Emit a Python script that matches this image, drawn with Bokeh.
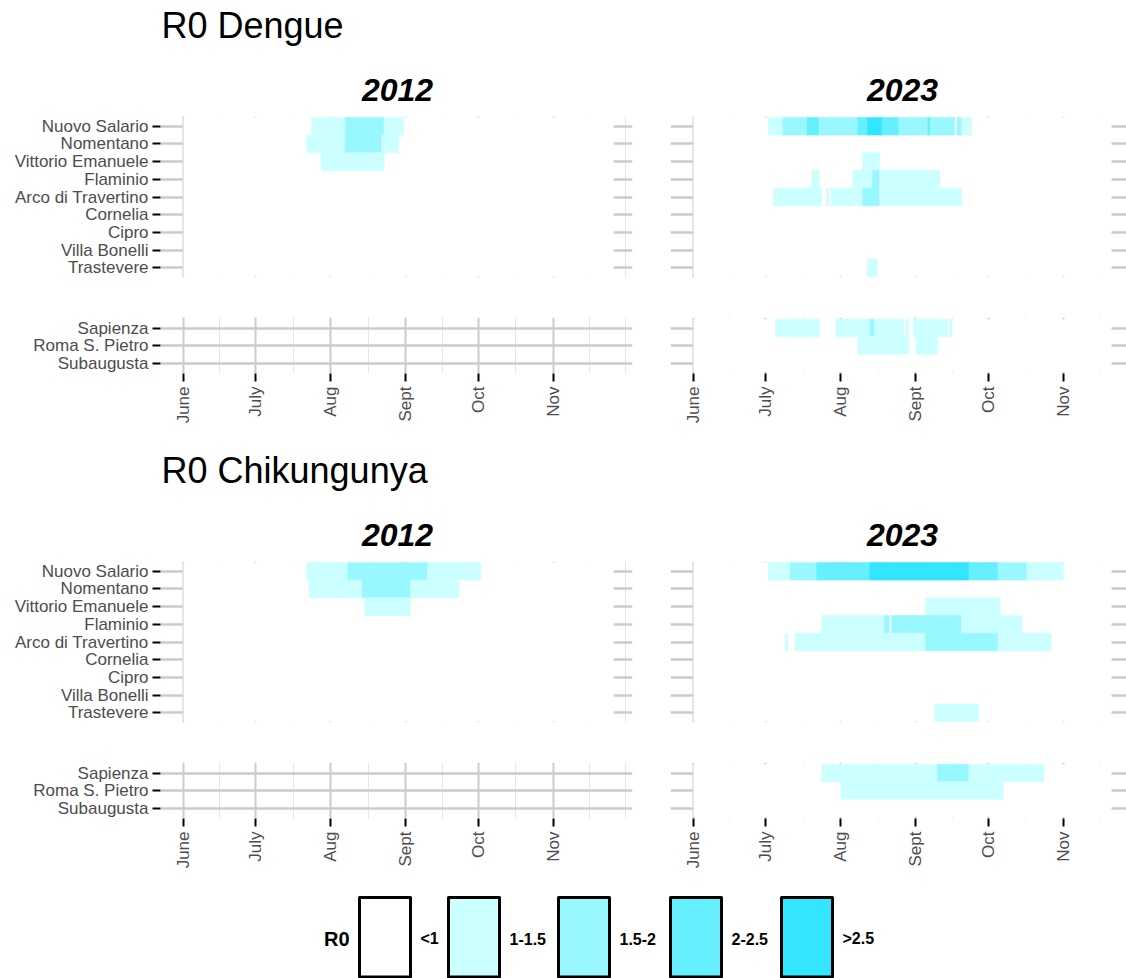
import math
import pandas as pd
from bokeh.plotting import figure
from bokeh.layouts import column, row
from bokeh.models import Range1d, FixedTicker, ColumnDataSource
from bokeh.core.properties import value
from bokeh.embed import file_html
from bokeh.resources import INLINE

FONT = "Liberation Sans"

# ---- data ---------------------------------------------------------------
sites_main = ["Nuovo Salario", "Nomentano", "Vittorio Emanuele", "Flaminio",
              "Arco di Travertino", "Cornelia", "Cipro", "Villa Bonelli", "Trastevere"]
sites_extra = ["Sapienza", "Roma S. Pietro", "Subaugusta"]

r0_classes = ["<1", "1-1.5", "1.5-2", "2-2.5", ">2.5"]
r0_colors = ["#ffffff", "#ccffff", "#99f8ff", "#66efff", "#33e5ff"]

month_starts = ["06-01", "07-01", "08-01", "09-01", "10-01", "11-01"]
month_labels = ["June", "July", "Aug", "Sept", "Oct", "Nov"]
season_close = "12-01"

# first and (exclusive) last day with an R0 estimate in each season
season = {2012: ("06-01", "11-26"), 2023: ("06-01", "11-21")}
# site groups with estimates in each season
monitored = {2012: ["main"], 2023: ["main", "extra"]}

# (site, first day, day after last, R0 class); days not listed are R0 < 1
dengue_2012 = [
    ("Nuovo Salario", "07-24", "08-07", "1-1.5"),
    ("Nuovo Salario", "08-07", "08-23", "1.5-2"),
    ("Nuovo Salario", "08-23", "08-31", "1-1.5"),
    ("Nomentano", "07-22", "08-07", "1-1.5"),
    ("Nomentano", "08-07", "08-22", "1.5-2"),
    ("Nomentano", "08-22", "08-29", "1-1.5"),
    ("Vittorio Emanuele", "07-28", "08-23", "1-1.5"),
]

dengue_2023 = [
    ("Nuovo Salario", "07-02", "07-08", "1-1.5"),
    ("Nuovo Salario", "07-08", "07-18", "1.5-2"),
    ("Nuovo Salario", "07-18", "07-23", "2-2.5"),
    ("Nuovo Salario", "07-23", "08-08", "1.5-2"),
    ("Nuovo Salario", "08-08", "08-12", "2-2.5"),
    ("Nuovo Salario", "08-12", "08-18", ">2.5"),
    ("Nuovo Salario", "08-18", "08-25", "2-2.5"),
    ("Nuovo Salario", "08-25", "09-06", "1.5-2"),
    ("Nuovo Salario", "09-06", "09-07", "2-2.5"),
    ("Nuovo Salario", "09-07", "09-17", "1.5-2"),
    ("Nuovo Salario", "09-18", "09-20", "1.5-2"),
    ("Nuovo Salario", "09-20", "09-24", "1-1.5"),
    ("Vittorio Emanuele", "08-10", "08-17", "1-1.5"),
    ("Flaminio", "07-20", "07-23", "1-1.5"),
    ("Flaminio", "08-06", "08-14", "1-1.5"),
    ("Flaminio", "08-14", "08-17", "1.5-2"),
    ("Flaminio", "08-17", "09-11", "1-1.5"),
    ("Arco di Travertino", "07-04", "07-24", "1-1.5"),
    ("Arco di Travertino", "07-26", "07-27", "1-1.5"),
    ("Arco di Travertino", "07-28", "08-10", "1-1.5"),
    ("Arco di Travertino", "08-10", "08-17", "1.5-2"),
    ("Arco di Travertino", "08-17", "09-20", "1-1.5"),
    ("Trastevere", "08-12", "08-16", "1-1.5"),
    ("Sapienza", "07-05", "07-23", "1-1.5"),
    ("Sapienza", "07-30", "08-13", "1-1.5"),
    ("Sapienza", "08-13", "08-15", "1.5-2"),
    ("Sapienza", "08-15", "08-27", "1-1.5"),
    ("Sapienza", "08-28", "08-29", "1-1.5"),
    ("Sapienza", "08-31", "09-14", "1-1.5"),
    ("Sapienza", "09-15", "09-16", "1-1.5"),
    ("Roma S. Pietro", "08-08", "08-29", "1-1.5"),
    ("Roma S. Pietro", "09-01", "09-10", "1-1.5"),
]

chik_2012 = [
    ("Nuovo Salario", "07-22", "08-08", "1-1.5"),
    ("Nuovo Salario", "08-08", "09-10", "1.5-2"),
    ("Nuovo Salario", "09-10", "10-02", "1-1.5"),
    ("Nomentano", "07-23", "08-14", "1-1.5"),
    ("Nomentano", "08-14", "09-03", "1.5-2"),
    ("Nomentano", "09-03", "09-23", "1-1.5"),
    ("Vittorio Emanuele", "08-15", "09-03", "1-1.5"),
]

chik_2023 = [
    ("Nuovo Salario", "07-02", "07-11", "1-1.5"),
    ("Nuovo Salario", "07-11", "07-22", "1.5-2"),
    ("Nuovo Salario", "07-22", "08-13", "2-2.5"),
    ("Nuovo Salario", "08-13", "09-23", ">2.5"),
    ("Nuovo Salario", "09-23", "10-05", "2-2.5"),
    ("Nuovo Salario", "10-05", "10-17", "1.5-2"),
    ("Nuovo Salario", "10-17", "11-01", "1-1.5"),
    ("Vittorio Emanuele", "09-05", "10-06", "1-1.5"),
    ("Flaminio", "07-24", "08-19", "1-1.5"),
    ("Flaminio", "08-19", "08-21", "1.5-2"),
    ("Flaminio", "08-22", "09-20", "1.5-2"),
    ("Flaminio", "09-20", "10-15", "1-1.5"),
    ("Arco di Travertino", "07-09", "07-10", "1-1.5"),
    ("Arco di Travertino", "07-13", "09-05", "1-1.5"),
    ("Arco di Travertino", "09-05", "10-05", "1.5-2"),
    ("Arco di Travertino", "10-05", "10-27", "1-1.5"),
    ("Trastevere", "09-09", "09-27", "1-1.5"),
    ("Sapienza", "07-24", "09-10", "1-1.5"),
    ("Sapienza", "09-10", "09-23", "1.5-2"),
    ("Sapienza", "09-23", "10-24", "1-1.5"),
    ("Roma S. Pietro", "08-01", "10-07", "1-1.5"),
]

# ---- layout constants ---------------------------------------------------
W_TOTAL = 1126
LEFT_FRAME, LEFT_BL, LEFT_BR = 472, 160, 18
RIGHT_FRAME, RIGHT_BL, RIGHT_BR = 456, 20, 0
X_LO, X_HI = -9.5, 185.8
X_HI_RIGHT = X_LO + (X_HI - X_LO) * RIGHT_FRAME / LEFT_FRAME

GRID_MAJOR = "#cbcbcb"
GRID_MINOR = "#e6e6e6"
LABEL_GREY = "#4d4d4d"
LABEL_SIZE = "17px"


def day(year, mmdd):
    """Days elapsed since 1 June of the given season."""
    return (pd.Timestamp(f"{year}-{mmdd}") - pd.Timestamp(f"{year}-06-01")).days


def make_panel(year, group, records, left, upper):
    sites = sites_main if group == "main" else sites_extra
    n = len(sites)
    pad = 0.55 if upper else 0.6
    p = figure(
        title=None,
        frame_width=LEFT_FRAME if left else RIGHT_FRAME,
        frame_height=161 if upper else 56,
        x_range=Range1d(X_LO, X_HI if left else X_HI_RIGHT),
        y_range=Range1d(n - 1 + pad, -pad),
        output_backend="svg", toolbar_location=None,
        min_border_left=LEFT_BL if left else RIGHT_BL,
        min_border_right=LEFT_BR if left else RIGHT_BR,
        min_border_top=6 if upper else 20,
        min_border_bottom=20 if upper else 72,
    )
    p.outline_line_color = None
    p.background_fill_color = "white"
    p.border_fill_color = "white"

    majors = [day(year, m) for m in month_starts]
    closing = day(year, season_close)
    edges = majors + [closing]
    minors = [(a + b) / 2 for a, b in zip(edges[:-1], edges[1:])] + [closing]
    xt = FixedTicker(ticks=majors, minor_ticks=minors)
    yt = FixedTicker(ticks=list(range(n)), minor_ticks=[])

    p.xgrid.ticker = xt
    p.xgrid.grid_line_color = GRID_MAJOR
    p.xgrid.grid_line_width = 2
    p.xgrid.minor_grid_line_color = GRID_MINOR
    p.xgrid.minor_grid_line_width = 1
    p.ygrid.ticker = yt
    p.ygrid.grid_line_color = GRID_MAJOR
    p.ygrid.grid_line_width = 2.5

    # x axis (only under the lower panels)
    xa = p.xaxis[0]
    xa.ticker = xt
    if upper:
        xa.visible = False
    else:
        xa.major_label_overrides = {m: lab for m, lab in zip(majors, month_labels)}
        xa.major_label_orientation = math.pi / 2
        xa.major_label_text_font = FONT
        xa.major_label_text_font_size = LABEL_SIZE
        xa.major_label_text_color = LABEL_GREY
        xa.major_label_standoff = 5
        xa.major_tick_line_color = "black"
        xa.major_tick_line_width = 2
        xa.major_tick_out = 8
        xa.major_tick_in = 0
        xa.minor_tick_line_color = None
        xa.axis_line_color = None

    # y axis (site names on the left column only)
    ya = p.yaxis[0]
    ya.ticker = yt
    if left:
        ya.major_label_overrides = {i: s for i, s in enumerate(sites)}
        ya.major_label_text_font = FONT
        ya.major_label_text_font_size = LABEL_SIZE
        ya.major_label_text_color = LABEL_GREY
        ya.major_label_standoff = 4
        ya.major_tick_line_color = "black"
        ya.major_tick_line_width = 2
        ya.major_tick_out = 8
        ya.major_tick_in = 0
        ya.minor_tick_line_color = None
        ya.axis_line_color = None
    else:
        ya.visible = False

    # season with estimates: background class R0 < 1
    if group in monitored[year]:
        s0, s1 = season[year]
        p.quad(left=[day(year, s0)], right=[day(year, s1)],
               top=[-0.5], bottom=[n - 0.5],
               fill_color=r0_colors[0], line_color=None)

        recs = [r for r in records if r[0] in sites]
        colors = [r0_colors[r0_classes.index(r[3])] for r in recs]
        src = ColumnDataSource(dict(
            left=[day(year, r[1]) for r in recs],
            right=[day(year, r[2]) for r in recs],
            top=[sites.index(r[0]) - 0.5 for r in recs],
            bottom=[sites.index(r[0]) + 0.5 for r in recs],
            color=colors,
        ))
        p.quad(left="left", right="right", top="top", bottom="bottom",
               fill_color="color", line_color="color", line_width=0.6, source=src)
    return p


def blank(height):
    p = figure(title=None, width=W_TOTAL, height=height, x_range=Range1d(0, W_TOTAL),
               y_range=Range1d(height, 0), output_backend="svg",
               toolbar_location=None, min_border=0)
    p.axis.visible = False
    p.grid.visible = False
    p.outline_line_color = None
    p.background_fill_color = "white"
    p.border_fill_color = "white"
    return p


def header(title):
    p = blank(110)
    p.text(x=[161], y=[25], text=[title], text_font=value(FONT),
           text_font_size="36px", text_color="black",
           text_align="left", text_baseline="middle")
    p.text(x=[397, 902], y=[89, 89], text=["2012", "2023"],
           text_font=value(FONT), text_font_size="32px",
           text_font_style="bold italic", text_color="black",
           text_align="center", text_baseline="middle")
    return p


def block(title, rec_2012, rec_2023):
    return [
        header(title),
        row(make_panel(2012, "main", rec_2012, True, True),
            make_panel(2023, "main", rec_2023, False, True)),
        row(make_panel(2012, "extra", rec_2012, True, False),
            make_panel(2023, "extra", rec_2023, False, False)),
    ]


def legend_strip():
    p = blank(88)
    key_left = [359, 448, 558, 670, 781]
    key_w = 51
    p.quad(left=key_left, right=[k + key_w for k in key_left],
           top=[7] * len(key_left), bottom=[86.5] * len(key_left),
           fill_color=r0_colors, line_color="black", line_width=3,
           line_join="round")
    p.text(x=[k + key_w + 10 for k in key_left], y=[48] * len(key_left),
           text=r0_classes, text_font=value(FONT), text_font_size="16px",
           text_font_style="bold", text_color="black",
           text_align="left", text_baseline="middle")
    p.text(x=[349], y=[48], text=["R0"], text_font=value(FONT),
           text_font_size="20px", text_font_style="bold", text_color="black",
           text_align="right", text_baseline="middle")
    return p


layout = column(
    *block("R0 Dengue", dengue_2012, dengue_2023),
    *block("R0 Chikungunya", chik_2012, chik_2023),
    legend_strip(),
)

open("out.html", "w").write(file_html(layout, INLINE))
